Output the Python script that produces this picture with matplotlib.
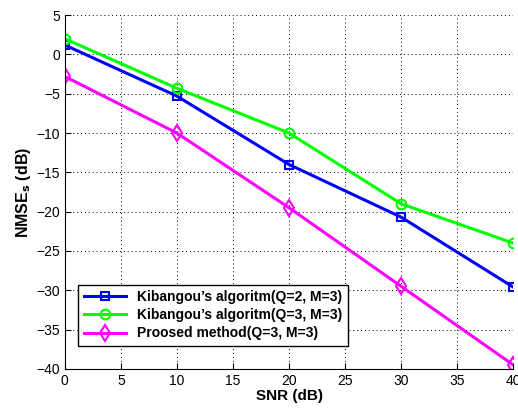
import numpy as np
import matplotlib
matplotlib.use('Agg')
import matplotlib.pyplot as plt

# Werte
snr = [0, 10, 20, 30, 40]
kib_q2 = [1.2, -5.3, -14.0, -20.7, -29.6]
kib_q3 = [2.0, -4.3, -10.0, -19.0, -24.0]
proposed = [-2.8, -10.0, -19.5, -29.5, -39.5]
labels = ["Kibangou\u2019s algoritm(Q=2, M=3)",
          "Kibangou\u2019s algoritm(Q=3, M=3)",
          "Proosed method(Q=3, M=3)"]

plt.rcParams['font.family'] = ['Liberation Sans', 'DejaVu Sans']

fig = plt.figure(figsize=(5.18, 4.09), dpi=100)
ax = fig.add_axes([0.125, 0.098, 0.866, 0.865])

ax.plot(snr, kib_q2, color='#0000ff', lw=2.2, marker='s', ms=6, mfc='none', mew=1.5, label=labels[0])
ax.plot(snr, kib_q3, color='#00ff00', lw=2.2, marker='o', ms=7, mfc='none', mew=1.5, label=labels[1])
ax.plot(snr, proposed, color='#ff00ff', lw=2.2, marker='d', ms=8, mfc='none', mew=1.5, label=labels[2])

ax.set_xlim(0, 40)
ax.set_ylim(-40, 5)
ax.set_xticks(np.arange(0, 41, 5))
ax.set_yticks(np.arange(-40, 6, 5))
ax.grid(True, linestyle=(0, (1, 3)), color='black', lw=0.7)
ax.tick_params(direction='in', labelsize=10, length=4)
for s in ['top', 'right']:
    ax.spines[s].set_visible(False)

ax.set_xlabel('SNR (dB)', fontsize=11, fontweight='bold', labelpad=1)
ax.set_ylabel(r'NMSE$_\mathbf{s}$ (dB)', fontsize=11.5, fontweight='bold', labelpad=2)

leg = ax.legend(loc='lower left', bbox_to_anchor=(0.015, 0.045), fancybox=False, framealpha=1,
                edgecolor='black', prop={'weight': 'bold', 'size': 10}, handlelength=3,
                borderpad=0.4, labelspacing=0.3)
leg.get_frame().set_linewidth(1.0)

fig.savefig('out.png', dpi=100)
